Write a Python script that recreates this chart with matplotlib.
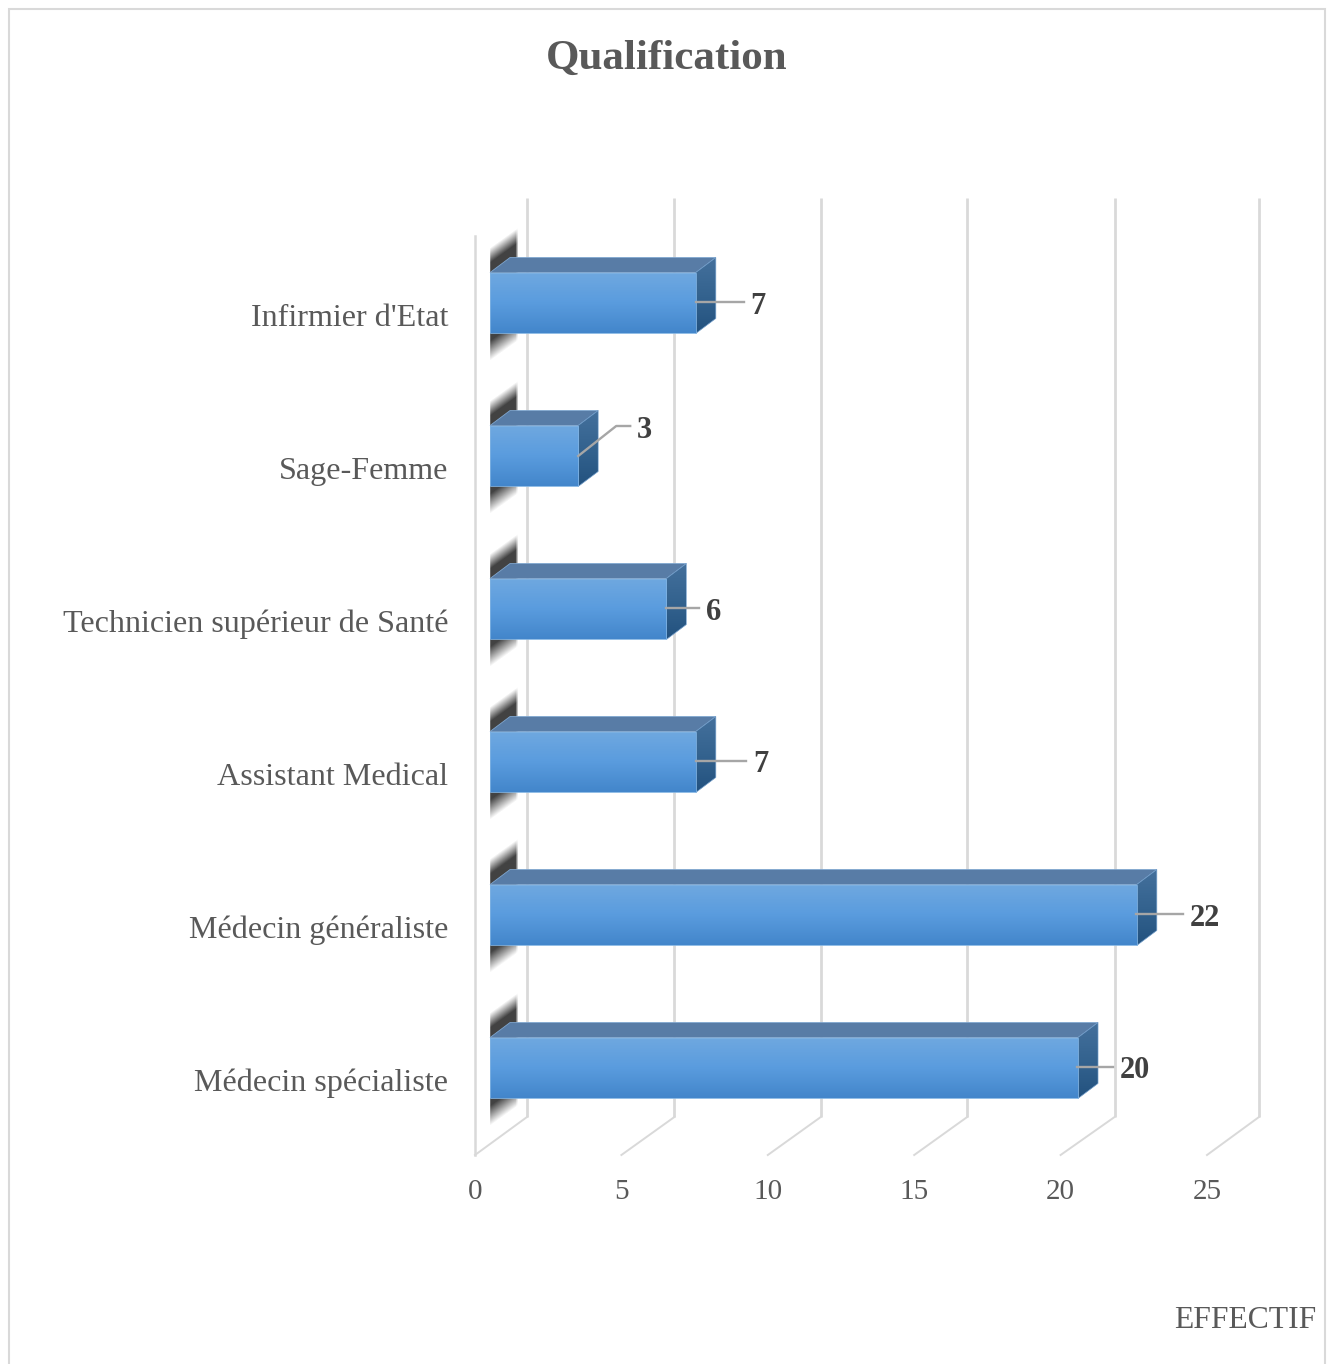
import numpy as np
import matplotlib
matplotlib.use('Agg')
import matplotlib.pyplot as plt
from matplotlib.colors import LinearSegmentedColormap, to_rgb
from matplotlib.patches import Polygon, Rectangle
from matplotlib.transforms import ScaledTranslation

categories = ['Médecin spécialiste', 'Médecin généraliste', 'Assistant Medical',
              'Technicien supérieur de Santé', 'Sage-Femme', "Infirmier d'Etat"]
values = [20, 22, 7, 6, 3, 7]
x_ticks = [0, 5, 10, 15, 20, 25]

# leader line bends and label spots, in pixels from the bar end
leaders = [[(-1, 1), (35, 1)], [(-1, 1), (46, 1)], [(0, 1), (50, 1)],
           [(0, 1), (33, 1)], [(0, 0), (38, 30), (52, 30)], [(0, 1), (48, 1)]]
label_pos = [(57, -3), (68, -4), (65, -2), (47, -4), (66, 26), (62, -4)]
# wall lines do not sit at an even spacing in the picture
back_shift = [52, 53, 53, 53, 54, 52]

W, H = 1332, 1364
DPI = 100
GREY = '#595959'
GRID = '#d9d9d9'
BAR_SCALE = 29.4

plt.rcParams['font.family'] = ['Liberation Serif', 'DejaVu Serif']


def rect(left, top, right, bottom):
    return [left / W, 1 - bottom / H, (right - left) / W, (bottom - top) / H]


fig = plt.figure(figsize=(W / DPI, H / DPI), dpi=DPI, facecolor='white')
fig.add_artist(Rectangle((9 / W, -0.01), 1316 / W, 1 - 9 / H + 0.01, transform=fig.transFigure,
                         facecolor='none', edgecolor=GRID, lw=1.5))
fig.text(667 / W, 1 - 59 / H, 'Qualification', ha='center', va='center',
         fontsize=31, fontweight='bold', color=GREY)
fig.text(1316 / W, 1 - 1321 / H, 'EFFECTIF', ha='right', va='center', fontsize=22.8, color=GREY)

# floor and back wall
gax = fig.add_axes(rect(475, 236, 1207, 1155))
gax.set_xlim(0, 25)
gax.set_ylim(0, 1)
gax.patch.set_visible(False)
for s in gax.spines.values():
    s.set_visible(False)
gax.set_yticks([])
gax.set_xticks(x_ticks)
gax.set_xticklabels([str(t) for t in x_ticks], fontsize=21, color=GREY)
gax.tick_params(axis='x', length=0, pad=17.5)

for t, shift in zip(x_ticks, back_shift):
    back = gax.transData + ScaledTranslation(shift / DPI, 38 / DPI, fig.dpi_scale_trans)
    gax.plot([t, t], [0, 1], color=GRID, lw=2, transform=back, clip_on=False, solid_capstyle='butt')
    gax.plot([t, t + shift / 29.28], [0, 38 / 919], color=GRID, lw=1.4, clip_on=False)
gax.plot([0, 0], [0, 1], color=GRID, lw=1.8, clip_on=False)

# bars sit a little in front of the wall, on their own scale
bax = fig.add_axes(rect(490, 226.5, 490 + 25 * BAR_SCALE, 1144.5))
bax.patch.set_visible(False)
for s in bax.spines.values():
    s.set_visible(False)
bax.set_xticks([])

bar_h = 0.398
dx = 20 / BAR_SCALE
dy = 15 / 153

front_cmap = LinearSegmentedColormap.from_list('front', ['#6fa8e0', '#5a9cde', '#4386cb'])
side_cmap = LinearSegmentedColormap.from_list('side', ['#44709c', '#34638f', '#23527f'])
shadow_rgb = to_rgb('#383838')

# blurred shadow thrown on the left wall
nu, nv = 31, 140
uu, vv = np.meshgrid(np.arange(nu), np.arange(nv))
sheared = vv - 10 + 0.72 * (uu - 3)
shadow = np.clip((sheared - 9) / 15, 0, 1) * np.clip((122 - sheared) / 20, 0, 1)
shadow = shadow * np.clip((uu + 1) / 5, 0, 1) * np.clip((nu - uu) / 3, 0, 1)
shadow_img = np.zeros((nv, nu, 4))
shadow_img[..., :3] = shadow_rgb
shadow_img[..., 3] = shadow * 0.95

grad = np.linspace(0, 1, 64).reshape(-1, 1)
pos = np.arange(len(values))
bars = bax.barh(pos, values, height=bar_h, color='none', edgecolor='#7fb2e2', lw=0.6, zorder=6)

for i, v in enumerate(values):
    low, up = i - bar_h / 2, i + bar_h / 2
    # shadow spans px -3..28 and from 45px above to 95px below the top edge of the bar
    bax.imshow(shadow_img, extent=[-3 / BAR_SCALE, 28 / BAR_SCALE, up - 95 / 153, up + 45 / 153],
               aspect='auto', origin='upper', zorder=1, interpolation='bilinear')
    top = Polygon([(0, up), (v, up), (v + dx, up + dy), (dx, up + dy)], closed=True,
                  facecolor='#587ca6', edgecolor='#7fa6cf', lw=0.6, zorder=3, clip_on=False)
    bax.add_patch(top)
    side = Polygon([(v, low), (v + dx, low + dy), (v + dx, up + dy), (v, up)], closed=True,
                   facecolor='none', edgecolor='#6f9bc8', lw=0.5, zorder=4, clip_on=False)
    bax.add_patch(side)
    im = bax.imshow(grad, cmap=side_cmap, extent=[v, v + dx, low, up + dy], aspect='auto',
                    origin='upper', zorder=3)
    im.set_clip_path(side)
    im = bax.imshow(grad, cmap=front_cmap, extent=[0, v, low, up], aspect='auto',
                    origin='upper', zorder=5)
    im.set_clip_path(bars[i])

bax.set_xlim(0, 25)
bax.set_ylim(-0.5, 5.5)
bax.set_yticks(pos)
bax.set_yticklabels(categories, fontsize=23.1, color=GREY)
bax.tick_params(axis='y', length=0, pad=30)
label_shift = ScaledTranslation(0, -12 / DPI, fig.dpi_scale_trans)
for lab in bax.get_yticklabels():
    lab.set_transform(lab.get_transform() + label_shift)

# leader lines and value labels
for i, v in enumerate(values):
    xs = [v + p[0] / BAR_SCALE for p in leaders[i]]
    ys = [i + p[1] / 153 for p in leaders[i]]
    bax.plot(xs, ys, color='#a6a6a6', lw=1.7, zorder=7, clip_on=False)
    bax.annotate(str(v), xy=(v, i), xytext=label_pos[i], textcoords='offset pixels',
                 ha='center', va='center', fontsize=22, fontweight='bold', color='#404040', zorder=8)

fig.savefig('out.png', dpi=DPI)
